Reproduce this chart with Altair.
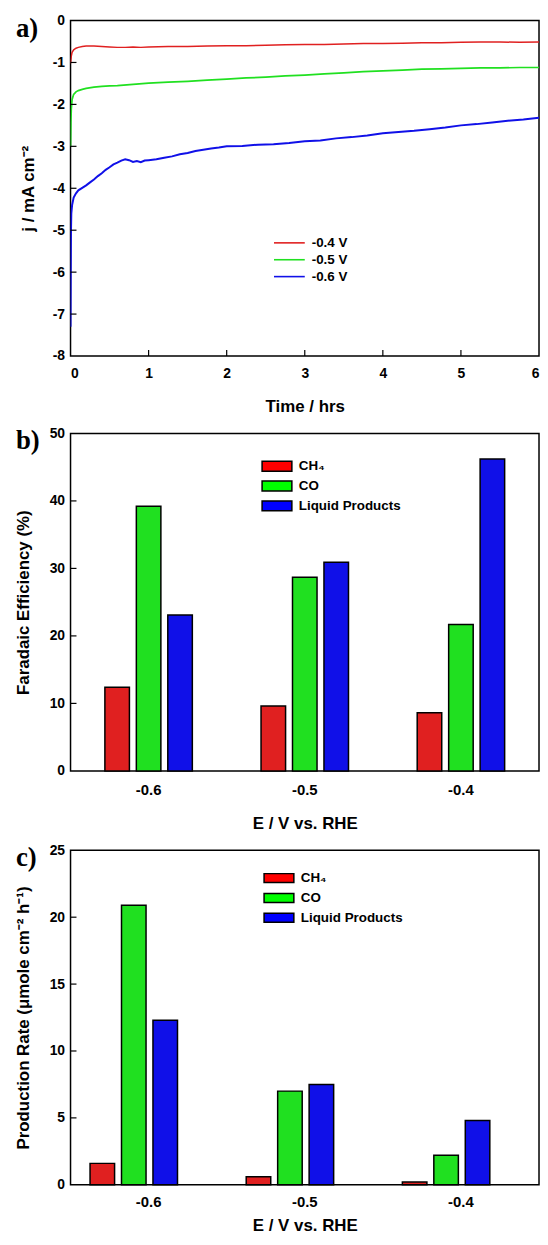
import altair as alt
import pandas as pd

# ---------------- Panel a: chronoamperometry ----------------
t_red = [0.0, 0.01, 0.02, 0.04, 0.07, 0.1, 0.15, 0.2, 0.3, 0.4, 0.5, 0.6, 0.7, 0.8, 0.9, 1.0,
         1.25, 1.5, 1.75, 2.0, 2.25, 2.5, 2.75, 3.0, 3.25, 3.5, 3.75, 4.0, 4.25, 4.5, 4.75,
         5.0, 5.25, 5.5, 5.75, 6.0]
j_red = [-1.02, -0.85, -0.76, -0.70, -0.66, -0.64, -0.62, -0.61, -0.61, -0.62, -0.63, -0.64,
         -0.64, -0.63, -0.64, -0.63, -0.62, -0.62, -0.61, -0.60, -0.60, -0.59, -0.58, -0.57,
         -0.57, -0.56, -0.55, -0.55, -0.54, -0.53, -0.53, -0.52, -0.51, -0.51, -0.52, -0.51]

t_green = [0.0, 0.005, 0.01, 0.02, 0.04, 0.07, 0.1, 0.15, 0.2, 0.3, 0.4, 0.5, 0.6, 0.8, 1.0,
           1.25, 1.5, 1.75, 2.0, 2.25, 2.5, 2.75, 3.0, 3.25, 3.5, 3.75, 4.0, 4.25, 4.5, 4.75,
           5.0, 5.25, 5.5, 5.75, 6.0]
j_green = [-3.00, -2.40, -2.10, -1.88, -1.76, -1.70, -1.67, -1.64, -1.62, -1.59, -1.57, -1.56,
           -1.55, -1.52, -1.49, -1.47, -1.45, -1.42, -1.40, -1.37, -1.35, -1.32, -1.30, -1.27,
           -1.25, -1.22, -1.20, -1.18, -1.16, -1.15, -1.14, -1.13, -1.13, -1.12, -1.12]

t_blue = [0.0, 0.003, 0.006, 0.01, 0.02, 0.04, 0.07, 0.1, 0.15, 0.2, 0.25, 0.3, 0.35, 0.4,
          0.45, 0.5, 0.55, 0.6, 0.65, 0.7, 0.75, 0.8, 0.85, 0.9, 0.95, 1.0, 1.1, 1.2, 1.3,
          1.4, 1.5, 1.6, 1.7, 1.8, 1.9, 2.0, 2.2, 2.4, 2.6, 2.8, 3.0, 3.2, 3.4, 3.6, 3.8,
          4.0, 4.2, 4.4, 4.6, 4.8, 5.0, 5.2, 5.4, 5.6, 5.8, 6.0]
j_blue = [-7.30, -6.00, -5.00, -4.60, -4.40, -4.22, -4.12, -4.05, -3.99, -3.93, -3.86, -3.79,
          -3.71, -3.64, -3.56, -3.50, -3.43, -3.39, -3.34, -3.31, -3.33, -3.37, -3.35, -3.38,
          -3.34, -3.33, -3.31, -3.27, -3.24, -3.19, -3.16, -3.11, -3.08, -3.05, -3.03, -3.00,
          -2.99, -2.96, -2.95, -2.92, -2.88, -2.86, -2.81, -2.78, -2.74, -2.69, -2.66, -2.63,
          -2.59, -2.55, -2.50, -2.47, -2.43, -2.39, -2.36, -2.32]

series_a = ["-0.4 V", "-0.5 V", "-0.6 V"]
colors_a = ["#e02020", "#20e020", "#1010e8"]

x_ticks_a = [1, 2, 3, 4, 5]
y_ticks_a = [-7, -6, -5, -4, -3, -2, -1]

# ---------------- Panels b and c: bar charts ----------------
potentials = ["-0.6", "-0.5", "-0.4"]
products = ["CH₄", "CO", "Liquid Products"]
bar_colors = ["#ff0000", "#00ff00", "#0000ff"]

fe_ch4 = [12.4, 9.6, 8.6]
fe_co = [39.2, 28.7, 21.7]
fe_liq = [23.1, 30.9, 46.2]

rate_ch4 = [1.6, 0.6, 0.2]
rate_co = [20.9, 7.0, 2.2]
rate_liq = [12.3, 7.5, 4.8]

y_ticks_b = [10, 20, 30, 40]
y_ticks_c = [5, 10, 15, 20]

FONT = "Liberation Sans"
SERIF = "Liberation Serif"

# ---------------- build tables ----------------
df_a = pd.concat([
    pd.DataFrame({"t": t_red, "j": j_red, "V": series_a[0]}),
    pd.DataFrame({"t": t_green, "j": j_green, "V": series_a[1]}),
    pd.DataFrame({"t": t_blue, "j": j_blue, "V": series_a[2]}),
])

def bar_df(a, b, c):
    rows = []
    for i, p in enumerate(potentials):
        for prod, vals in zip(products, [a, b, c]):
            rows.append({"E": p, "product": prod, "v": vals[i]})
    return pd.DataFrame(rows)

df_b = bar_df(fe_ch4, fe_co, fe_liq)
df_c = bar_df(rate_ch4, rate_co, rate_liq)

label_expr = "datum.value + ''"

# ---------------- panel a ----------------
WA, HA = 472, 338
x_axis_a = alt.Axis(title="Time / hrs", values=[0, 1, 2, 3, 4, 5, 6],
                    labelExpr=label_expr, labelPadding=11, titlePadding=18)
y_axis_a = alt.Axis(title="j / mA cm⁻²", values=list(range(-8, 1)),
                    labelExpr=label_expr, labelPadding=6, titlePadding=15)
x_scale_a = alt.Scale(domain=[0, 6], nice=False)
y_scale_a = alt.Scale(domain=[-8, 0], nice=False)

lines = alt.Chart(df_a).mark_line(clip=True).encode(
    x=alt.X("t:Q", scale=x_scale_a, axis=x_axis_a),
    y=alt.Y("j:Q", scale=y_scale_a, axis=y_axis_a),
    color=alt.Color("V:N", scale=alt.Scale(domain=series_a, range=colors_a), legend=None),
    strokeWidth=alt.StrokeWidth("V:N", scale=alt.Scale(domain=series_a, range=[1.5, 2.0, 2.4]),
                                legend=None),
)

xt_a = alt.Chart(pd.DataFrame({"t": x_ticks_a})).mark_rule(color="black", strokeWidth=1.2).encode(
    x=alt.X("t:Q", scale=x_scale_a, axis=x_axis_a), y=alt.value(HA), y2=alt.value(HA - 6))
yt_a = alt.Chart(pd.DataFrame({"j": y_ticks_a})).mark_rule(color="black", strokeWidth=1.2).encode(
    y=alt.Y("j:Q", scale=y_scale_a, axis=y_axis_a), x=alt.value(0), x2=alt.value(6))

leg_a_layers = []
for i, (name, col) in enumerate(zip(series_a, colors_a)):
    yy = 224 + i * 17
    d = pd.DataFrame({"n": [name]})
    leg_a_layers.append(alt.Chart(d).mark_rule(color=col, strokeWidth=1.6).encode(
        x=alt.value(205), x2=alt.value(236), y=alt.value(yy)))
    leg_a_layers.append(alt.Chart(d).mark_text(align="left", baseline="middle", font=FONT,
                                               fontWeight="bold", fontSize=13.5, color="black").encode(
        x=alt.value(243), y=alt.value(yy), text="n:N"))

lab_a = alt.Chart(pd.DataFrame({"l": ["a)"]})).mark_text(
    align="left", baseline="top", font=SERIF, fontWeight="bold", fontSize=27,
    color="black").encode(x=alt.value(-55), y=alt.value(-4), text="l:N")

panel_a = alt.layer(lines, xt_a, yt_a, *leg_a_layers, lab_a).properties(width=WA, height=HA)

# ---------------- bar panel builder ----------------
def bar_panel(df, ytitle, ymax, ystep, yticks, W, H, pi, p2, leg_x, leg_y0, leg_dy, leg_h,
              label, x_lab_pad, x_title_pad):
    y_scale = alt.Scale(domain=[0, ymax], nice=False)
    y_axis = alt.Axis(title=ytitle, values=list(range(0, ymax + 1, ystep)),
                      labelExpr=label_expr, labelPadding=6, titlePadding=17)
    bars = alt.Chart(df).mark_bar(stroke="black", strokeWidth=1.5).encode(
        x=alt.X("E:N", sort=potentials,
                scale=alt.Scale(paddingInner=pi, paddingOuter=pi / 2),
                axis=alt.Axis(title="E / V vs. RHE", labelAngle=0, labelFontSize=15,
                              labelPadding=x_lab_pad, titlePadding=x_title_pad)),
        xOffset=alt.XOffset("product:N", sort=products,
                            scale=alt.Scale(paddingInner=p2, paddingOuter=0)),
        y=alt.Y("v:Q", scale=y_scale, axis=y_axis),
        color=alt.Color("product:N", scale=alt.Scale(domain=products, range=bar_colors),
                        legend=None),
    )
    yt = alt.Chart(pd.DataFrame({"v": yticks})).mark_rule(color="black", strokeWidth=1.2).encode(
        y=alt.Y("v:Q", scale=y_scale, axis=y_axis), x=alt.value(0), x2=alt.value(6))
    legs = []
    for i, (name, col) in enumerate(zip(products, bar_colors)):
        yy = leg_y0 + i * leg_dy
        d = pd.DataFrame({"n": [name]})
        legs.append(alt.Chart(d).mark_rect(fill=col, stroke="black", strokeWidth=1.5).encode(
            x=alt.value(leg_x), x2=alt.value(leg_x + 30),
            y=alt.value(yy - leg_h / 2), y2=alt.value(yy + leg_h / 2)))
        legs.append(alt.Chart(d).mark_text(align="left", baseline="middle", font=FONT,
                                           fontWeight="bold", fontSize=13.5, color="black").encode(
            x=alt.value(leg_x + 37), y=alt.value(yy), text="n:N"))
    lab = alt.Chart(pd.DataFrame({"l": [label]})).mark_text(
        align="left", baseline="alphabetic", font=SERIF, fontWeight="bold", fontSize=27,
        color="black").encode(x=alt.value(-55), y=alt.value(16), text="l:N")
    return alt.layer(bars, yt, *legs, lab).properties(width=W, height=H)

panel_b = bar_panel(df_b, "Faradaic Efficiency (%)", 50, 10, y_ticks_b, 472, 340,
                    0.44, 0.22, 193, 33, 20, 10, "b)", 12, 18)
panel_c = bar_panel(df_c, "Production Rate (μmole cm⁻² h⁻¹)", 25, 5, y_ticks_c, 472, 337,
                    0.25, 0.19, 195, 28, 20, 9, "c)", 10, 8)

chart = alt.vconcat(panel_a, panel_b, panel_c, spacing=10).properties(
    padding={"left": 5, "top": 0, "right": 0, "bottom": 0}
).configure(
    background="white"
).configure_view(
    stroke="black", strokeWidth=1.5
).configure_axis(
    labelFont=FONT, labelFontWeight="bold", labelFontSize=14, labelColor="black",
    titleFont=FONT, titleFontWeight="bold", titleFontSize=17, titleColor="black",
    ticks=False, domain=False, grid=False
)

chart.save("out.html", embed_options={"renderer": "svg", "actions": False})
